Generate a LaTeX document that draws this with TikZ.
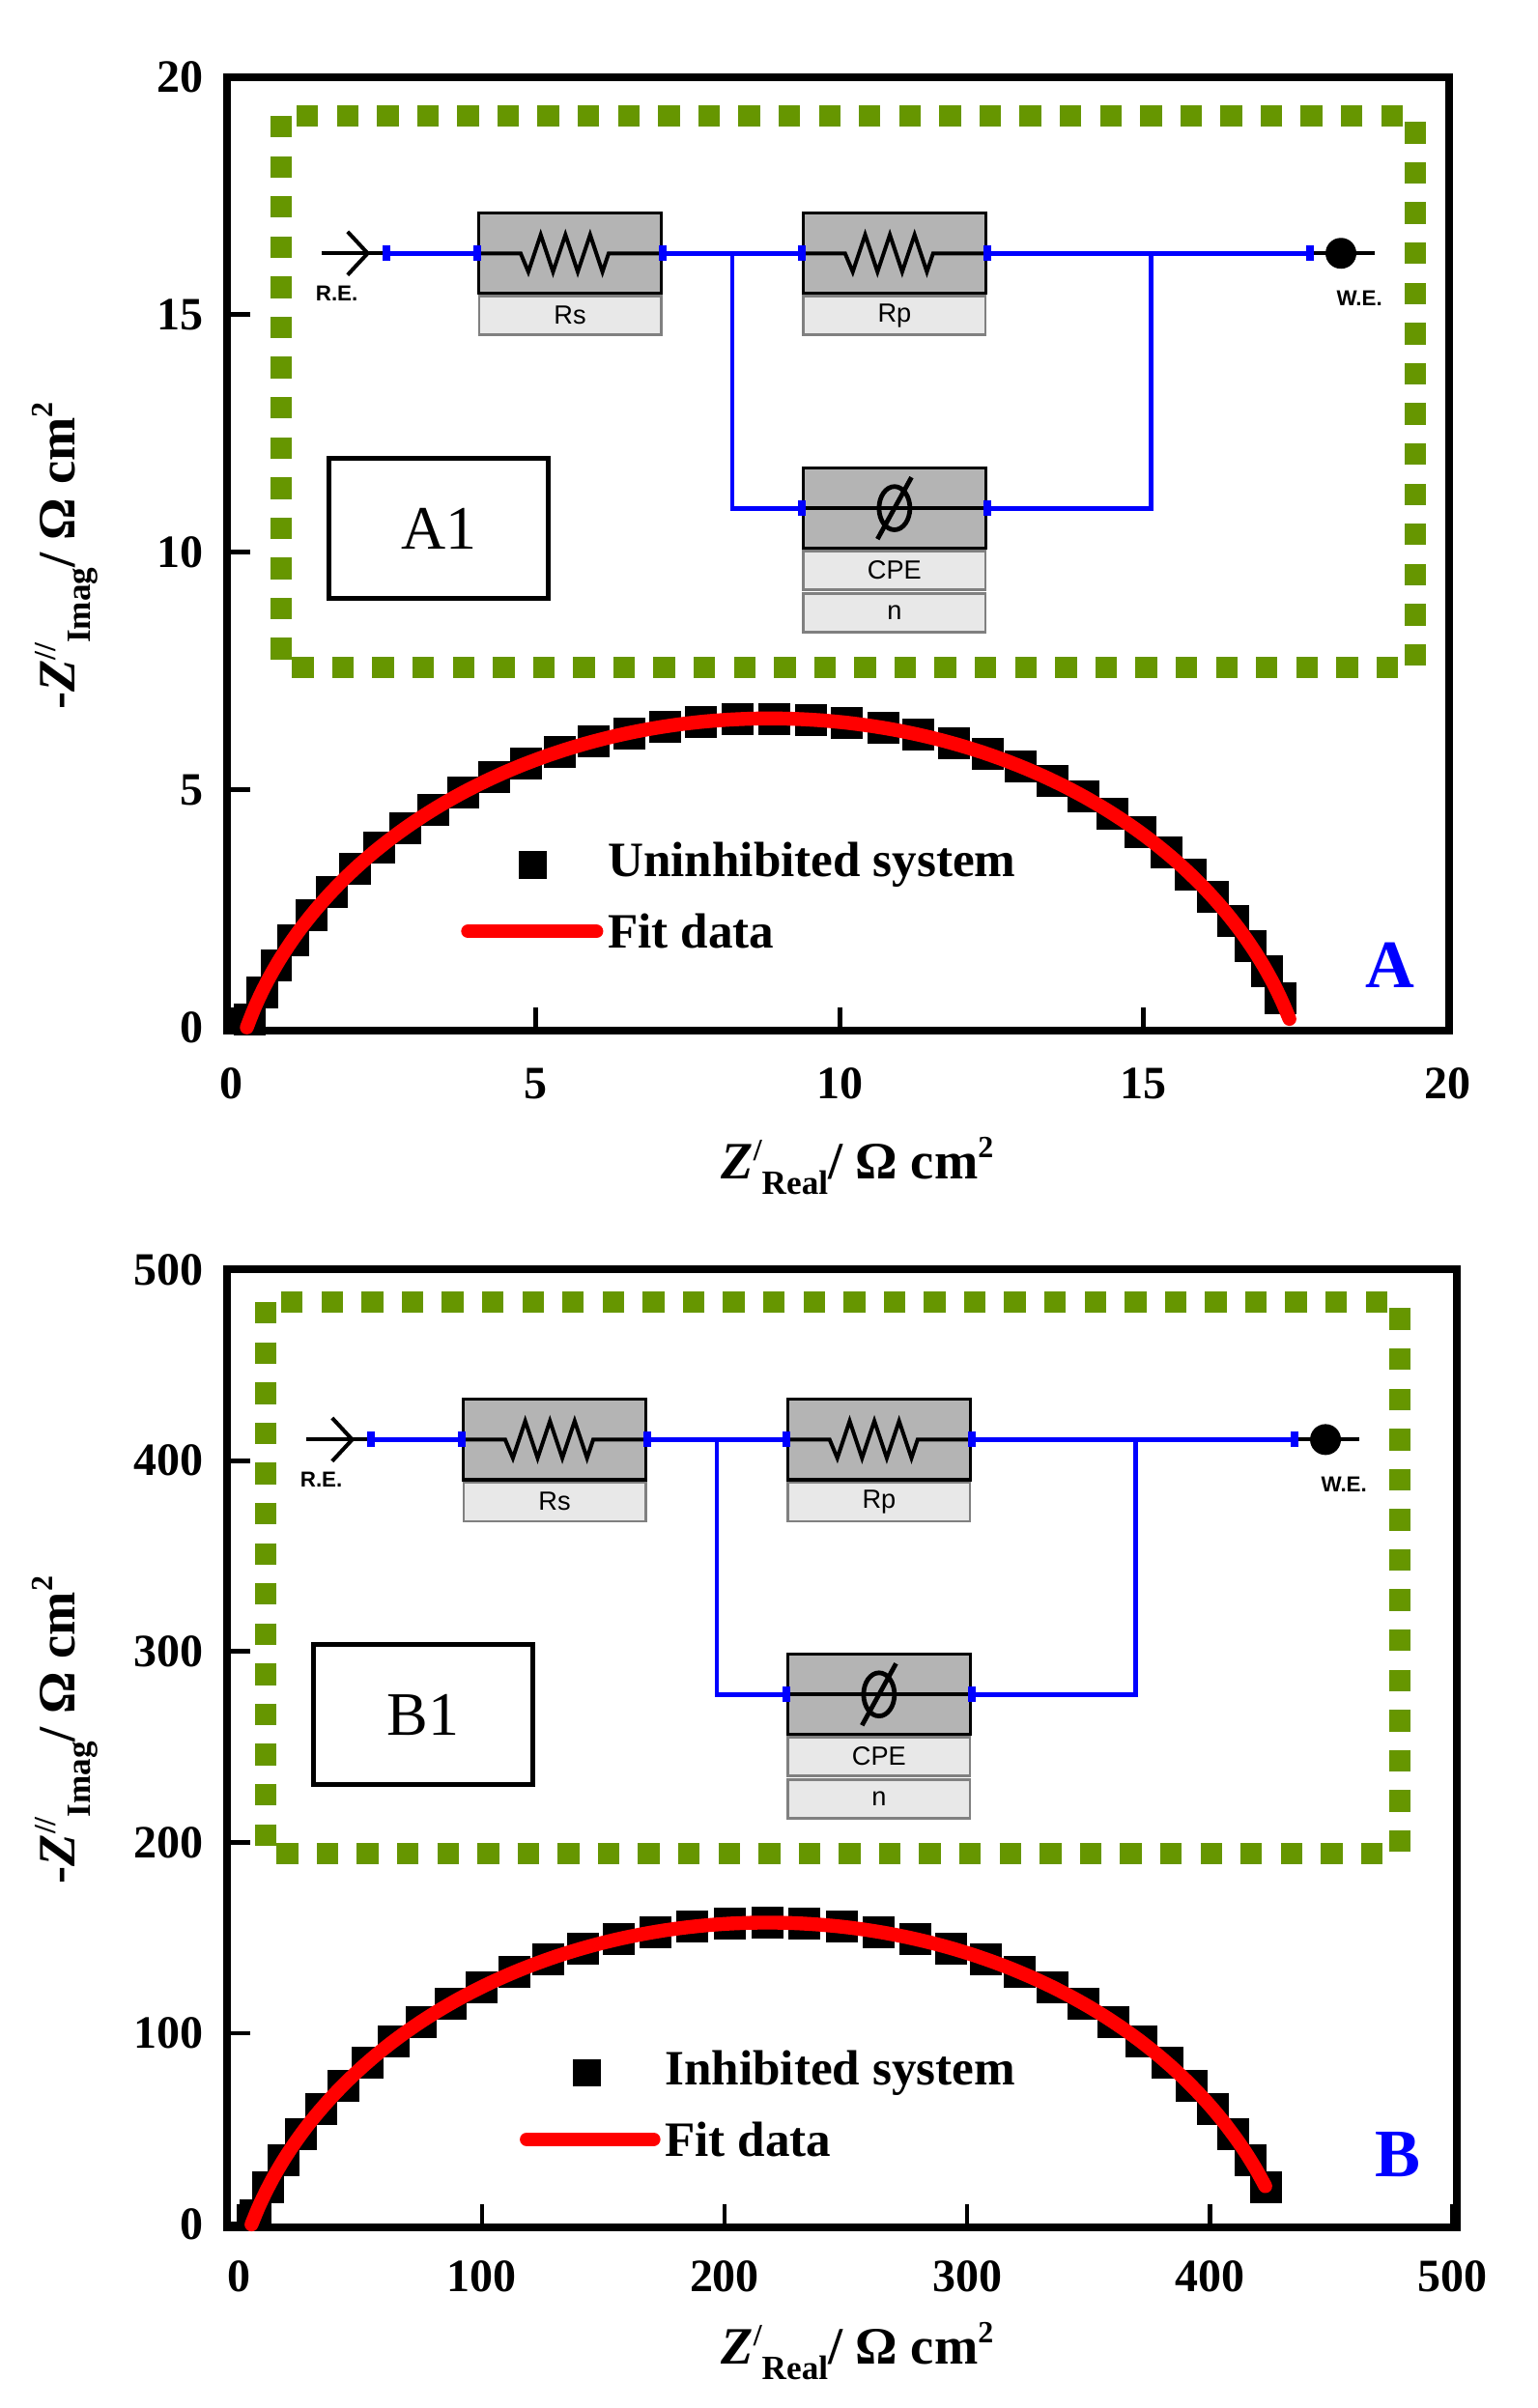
\documentclass[tikz,border=0pt]{standalone}
\usepackage{fontspec}
\setmainfont{Liberation Serif}
\newfontfamily\cirfont{Liberation Sans}
\usetikzlibrary{positioning,calc,plotmarks}
\definecolor{frame}{RGB}{102,150,0}
\definecolor{boxgray}{RGB}{180,180,180}
\definecolor{lblgray}{RGB}{232,232,232}
\tikzset{
  axisbox/.style={line width=5pt},
  tick/.style={line width=3pt},
  ticklbl/.style={font=\fontsize{30}{30}\selectfont\bfseries},
  axlbl/.style={font=\fontsize{34}{34}\selectfont\bfseries},
  dotframe/.style={frame, line width=14pt, dash pattern=on 14pt off 12pt},
  elem/.style={draw=black, line width=2pt, fill=boxgray, minimum width=118pt, minimum height=52pt, inner sep=0pt},
  elemlbl/.style={draw=gray, line width=1.5pt, fill=lblgray, minimum width=118pt, minimum height=25pt, inner sep=0pt, font=\cirfont\fontsize{17}{17}\selectfont},
  wire/.style={blue, line width=3pt},
  pin/.style={blue, line width=5pt},
  cirtxt/.style={font=\cirfont\fontsize{14}{14}\selectfont\bfseries},
  fitline/.style={red, line width=9pt, line cap=round},
  leg/.style={font=\fontsize{32}{32}\selectfont\bfseries, anchor=west},
  tag/.style={blue, font=\fontsize{44}{44}\selectfont\bfseries}
}
% one equivalent circuit, drawn at the origin of its scope
\newcommand{\circuit}[1]{%
  \draw[dotframe] (182,75) rectangle (916,432);
  \node[elem] (rs) at (369,164) {};
  \node[elemlbl, below=0pt of rs] (rsl) {Rs};
  \node[elem] (rp) at (579,164) {};
  \node[elemlbl, below=0pt of rp] (rpl) {Rp};
  \node[elem] (cpe) at (579,329) {};
  \node[elemlbl, below=0pt of cpe] (cpel) {CPE};
  \node[elemlbl, below=1pt of cpel] (nl) {n};
  \coordinate (re) at (250,164);
  \coordinate (we) at (848,164);
  \coordinate (bl) at (474,164);
  \coordinate (br) at (745,164);
  % zigzags and CPE symbol
  \foreach \e in {rs,rp}{
    \draw[line width=2.5pt] (\e.west) -- ++(28,0) -- ++(5,12) -- ++(8,-24) -- ++(8,24) -- ++(8,-24) -- ++(8,24) -- ++(8,-24) -- ++(8,24) -- ++(4,-12) -- (\e.east);
  }
  \draw[line width=2.5pt] (cpe.west) -- (cpe.east);
  \draw[line width=3pt] (cpe.center) ellipse (10pt and 14pt);
  \draw[line width=3pt] ($(cpe.center)+(-11,20)$) -- ($(cpe.center)+(11,-20)$);
  % terminals
  \draw[line width=2.5pt] (208,164) -- (re);
  \draw[line width=2.5pt] (225,150) -- (238,164) -- (225,178);
  \draw[line width=2.5pt] (we) -- (890,164);
  \node[circle, fill=black, inner sep=0pt, minimum size=20pt] (wed) at (868,164) {};
  \node[cirtxt] (ret) at (218,190) {R.E.};
  \node[cirtxt] (wet) at (880,193) {W.E.};
  % wiring
  \draw[wire] (re) -- (rs.west);
  \draw[wire] (rs.east) -- (rp.west);
  \draw[wire] (rp.east) -- (we);
  \draw[wire] (bl) |- (cpe.west);
  \draw[wire] (br) |- (cpe.east);
  \foreach \p in {re,we,rs.west,rs.east,rp.west,rp.east,cpe.west,cpe.east}
    \draw[pin] ($(\p)+(0,-5)$) -- ($(\p)+(0,5)$);
  \node[draw, line width=3pt, minimum width=142pt, minimum height=91pt, font=\fontsize{40}{40}\selectfont] (tagbox) at (284,342) {#1};
}
\newcommand{\ximlbl}{\textit{Z}\raisebox{12pt}{\fontsize{20}{20}\selectfont /}\raisebox{-10pt}{\fontsize{22}{22}\selectfont Real}/ Ω cm\raisebox{14pt}{\fontsize{20}{20}\selectfont 2}}
\newcommand{\yimlbl}{-\textit{Z}\raisebox{12pt}{\fontsize{20}{20}\selectfont //}\raisebox{-10pt}{\fontsize{22}{22}\selectfont Imag}/ Ω cm\raisebox{14pt}{\fontsize{20}{20}\selectfont 2}}
\begin{document}
\begin{tikzpicture}[x=1pt,y=-1pt]
\useasboundingbox (0,0) rectangle (995,1559);

% ---------- panel A ----------
\draw[axisbox] (147,50) rectangle (938,667);
\foreach \v [evaluate=\v as \px using 150+39.35*\v] in {0,5,...,20}{
  \draw[tick] (\px,667) -- (\px,652);
  \node[ticklbl, below] at (\px,688) {\v};
}
\foreach \v [evaluate=\v as \py using 665-30.75*\v] in {0,5,...,20}{
  \draw[tick] (147,\py) -- (162,\py);
  \node[ticklbl, left] at (135,\py) {\v};
}
\node[axlbl] (xla) at (555,755) {\ximlbl};
\node[axlbl, rotate=90] (yla) at (42,360) {\yimlbl};
\begin{scope}[shift={(150,665)},x=39.35pt,y=30.75pt]
  \draw plot[only marks, mark=square*, mark size=10pt, domain=163:20, samples=38]
    ({8.85+8.94*cos(\x)},{-2.44+8.94*sin(\x)});
  \draw[fitline] plot[smooth, domain=164.2:17, samples=60]
    ({8.85+8.94*cos(\x)},{-2.44+8.94*sin(\x)});
\end{scope}
\circuit{A1}
\node[fill=black, minimum size=18pt, inner sep=0pt] (sqa) at (345,560) {};
\node[leg] (lega) at (390,560) {Uninhibited system};
\coordinate (fa1) at (303,603);
\coordinate (fa2) at (386,603);
\draw[fitline] (fa1) -- (fa2);
\node[leg] (legfa) at (390,603) {Fit data};
\node[tag] (taga) at (900,625) {A};

% ---------- panel B ----------
\draw[axisbox] (147,822) rectangle (943,1442);
\foreach \v [evaluate=\v as \px using 155+1.57*\v] in {0,100,...,500}{
  \draw[tick] (\px,1442) -- (\px,1427);
  \node[ticklbl, below] at (\px,1460) {\v};
}
\foreach \v [evaluate=\v as \py using 1440-1.236*\v] in {0,100,...,500}{
  \draw[tick] (147,\py) -- (162,\py);
  \node[ticklbl, left] at (135,\py) {\v};
}
\node[axlbl] (xlb) at (555,1522) {\ximlbl};
\node[axlbl, rotate=90] (ylb) at (42,1120) {\yimlbl};
\begin{scope}[shift={(155,1440)},x=1.57pt,y=1.236pt]
  \draw plot[only marks, mark=square*, mark size=10pt, domain=162:22, samples=36]
    ({217.5+221.9*cos(\x)},{-63.9+221.9*sin(\x)});
  \draw[fitline] plot[smooth, domain=163.3:22.2, samples=60]
    ({217.5+221.9*cos(\x)},{-63.9+221.9*sin(\x)});
\end{scope}
\begin{scope}[shift={(-10,768)}]
\circuit{B1}
\end{scope}
\node[fill=black, minimum size=18pt, inner sep=0pt] (sqb) at (380,1342) {};
\node[leg] (legb) at (427,1342) {Inhibited system};
\coordinate (fb1) at (341,1385);
\coordinate (fb2) at (423,1385);
\draw[fitline] (fb1) -- (fb2);
\node[leg] (legfb) at (427,1385) {Fit data};
\node[tag] (tagb) at (905,1395) {B};
\end{tikzpicture}
\end{document}
